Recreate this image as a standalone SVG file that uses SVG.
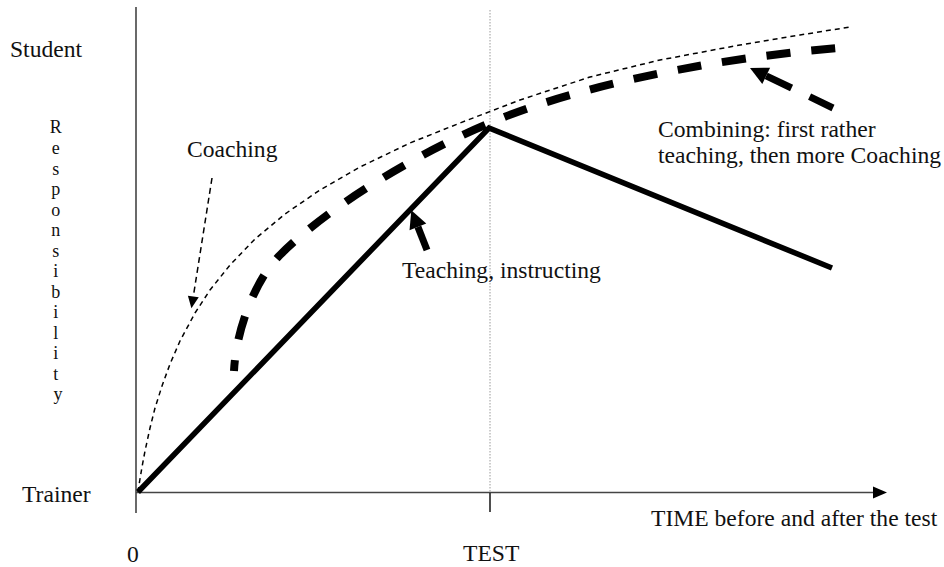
<svg xmlns="http://www.w3.org/2000/svg" width="944" height="567" viewBox="0 0 944 567">
  <style>
    .lbl { font-family: "Liberation Serif", "Times New Roman", serif; font-size: 23.6px; fill: #111; }
    .vert { font-family: "Liberation Serif", "Times New Roman", serif; font-size: 18px; fill: #111; text-anchor: middle; }
    .axis { stroke: #444; stroke-width: 1.6; fill: none; }
    .guide { stroke: #9a9a9a; stroke-width: 1; stroke-dasharray: 1.5 1.5; fill: none; }
    .tick { stroke: #222; stroke-width: 1.6; fill: none; }
    .solid { stroke: #000; stroke-width: 5.5; fill: none; stroke-linejoin: miter; }
    .coach { stroke: #000; stroke-width: 1.5; fill: none; stroke-dasharray: 5 4; stroke-linejoin: round; }
    .combo { stroke: #000; stroke-width: 8; fill: none; stroke-dasharray: 24 21; stroke-dashoffset: 13; }
    .ptr-bold { stroke: #000; stroke-width: 7; fill: none; }
    .ptr-thin { stroke: #000; stroke-width: 1.5; fill: none; stroke-dasharray: 6 4; }
  </style>
  <defs>
    <marker id="head-axis" markerUnits="userSpaceOnUse" markerWidth="16" markerHeight="14" refX="0" refY="7" orient="auto" overflow="visible">
      <path d="M0,1 L14,7 L0,13 z" fill="#000"/>
    </marker>
    <marker id="head-bold" markerUnits="userSpaceOnUse" markerWidth="20" markerHeight="20" refX="0" refY="10" orient="auto" overflow="visible">
      <path d="M0,1 L18,10 L0,19 z" fill="#000"/>
    </marker>
    <marker id="head-thin" markerUnits="userSpaceOnUse" markerWidth="14" markerHeight="12" refX="0" refY="6" orient="auto" overflow="visible">
      <path d="M0,0.5 L12,6 L0,11.5 z" fill="#000"/>
    </marker>
  </defs>

  <!-- axes -->
  <g id="axes">
    <line class="axis" x1="136" y1="7" x2="136" y2="513"/>
    <line class="axis" x1="136" y1="492.5" x2="873" y2="492.5" marker-end="url(#head-axis)"/>
    <line class="guide" x1="490" y1="10" x2="490" y2="492"/>
    <line class="tick" x1="490" y1="493" x2="490" y2="512"/>
  </g>

  <!-- axis labels -->
  <g id="label-student"><text class="lbl" x="10" y="57">Student</text></g>
  <g id="label-trainer"><text class="lbl" x="22" y="502">Trainer</text></g>
  <g id="label-responsibility">
    <text class="vert">
      <tspan x="58" y="133">R</tspan>
      <tspan x="58" y="154">e</tspan>
      <tspan x="58" y="174.5">s</tspan>
      <tspan x="58" y="195">p</tspan>
      <tspan x="58" y="215.5">o</tspan>
      <tspan x="58" y="236">n</tspan>
      <tspan x="58" y="256.5">s</tspan>
      <tspan x="58" y="277">i</tspan>
      <tspan x="58" y="297.5">b</tspan>
      <tspan x="58" y="318">i</tspan>
      <tspan x="58" y="338.5">l</tspan>
      <tspan x="58" y="359">i</tspan>
      <tspan x="58" y="379.5">t</tspan>
      <tspan x="58" y="400">y</tspan>
    </text>
  </g>
  <g id="label-zero"><text class="lbl" x="127" y="562">0</text></g>
  <g id="label-test"><text class="lbl" x="463" y="561">TEST</text></g>
  <g id="label-time"><text class="lbl" x="651" y="526">TIME before and after the test</text></g>

  <!-- curves -->
  <g id="coaching-curve">
    <polyline class="coach" points="138,492 139,485 140,479 142,467 145,451 150,428 155,408 162,386 170,364 180,341 195,313 210,290 230,265 255,239 285,214 320,190 360,167 410,143 460,123 520,100 590,77 660,60 740,45 800,35 850,27"/>
  </g>
  <g id="teaching-line">
    <polyline class="solid" points="138,492 489,128 832,268"/>
  </g>
  <g id="combining-curve">
    <path class="combo" d="M234,371 C236,330 255,280 280,255 C330,205 420,152 490,123 C560,92 700,58 852,47"/>
  </g>

  <!-- callout labels -->
  <g id="label-coaching"><text class="lbl" x="187" y="157">Coaching</text></g>
  <g id="label-teaching"><text class="lbl" x="402" y="278">Teaching, instructing</text></g>
  <g id="label-combining">
    <text class="lbl" x="658" y="137">Combining: first rather</text>
    <text class="lbl" x="658" y="163">teaching, then more Coaching</text>
  </g>

  <!-- pointers -->
  <g id="connectors">
    <line class="ptr-thin" x1="212" y1="178" x2="193.3" y2="296.5" marker-end="url(#head-thin)"/>
    <line class="ptr-bold" x1="427" y1="250" x2="417.9" y2="226.9" marker-end="url(#head-bold)"/>
    <line class="ptr-bold" x1="833" y1="108" x2="766.2" y2="75.8" stroke-dasharray="26 20 60" marker-end="url(#head-bold)"/>
  </g>
</svg>
